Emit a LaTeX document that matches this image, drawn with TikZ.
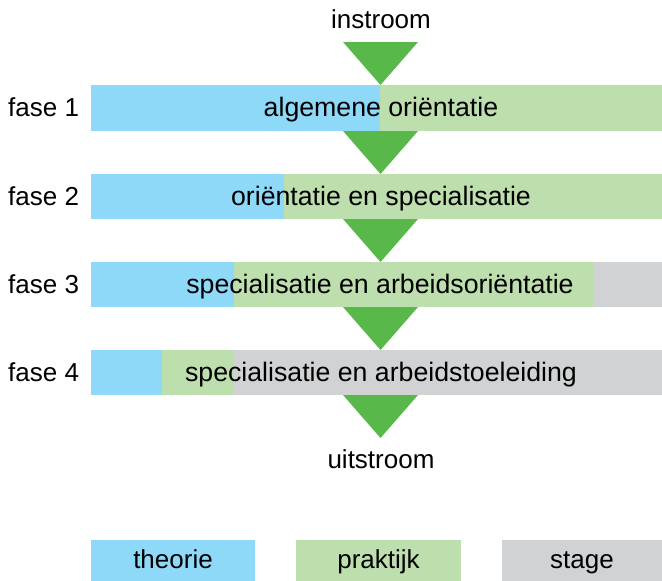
\documentclass[tikz,border=0pt]{standalone}
\usepackage{fontspec}
\setmainfont{Liberation Sans}
\definecolor{theo}{RGB}{142,216,248}
\definecolor{prak}{RGB}{189,222,173}
\definecolor{stag}{RGB}{209,210,212}
\definecolor{arr}{RGB}{88,185,74}
\begin{document}
\begin{tikzpicture}[x=1pt,y=-1pt,
  txt/.style={font=\fontsize{26}{30}\selectfont, inner sep=0pt, anchor=base},
  btxt/.style={txt, font=\fontsize{26.7}{30}\selectfont},
  lbl/.style={txt, anchor=base west},
  flow/.style={fill=arr}]
\useasboundingbox (0,0) rectangle (662,581);
% bars
\fill[theo] (91,85) rectangle (380,131);
\fill[prak] (380,85) rectangle (662,131);
\fill[theo] (91,174) rectangle (284,219);
\fill[prak] (284,174) rectangle (662,219);
\fill[theo] (91,262) rectangle (234,307);
\fill[prak] (234,262) rectangle (594,307);
\fill[stag] (594,262) rectangle (662,307);
\fill[theo] (91,350) rectangle (162,395);
\fill[prak] (162,350) rectangle (234,395);
\fill[stag] (234,350) rectangle (662,395);
% flow coordinates
\coordinate (c0) at (380.5,42);
\coordinate (c1) at (380.5,131);
\coordinate (c2) at (380.5,219);
\coordinate (c3) at (380.5,307);
\coordinate (c4) at (380.5,395);
\foreach \c in {c0,c1,c2,c3,c4}
  \fill[flow] (\c) ++(-37.5,0) -- ++(75,0) -- ++(-37.5,43) -- cycle;
% texts
\node[txt] (in) at (381,28) {instroom};
\node[btxt] (b1) at (381,116) {algemene oriëntatie};
\node[btxt] (b2) at (381,205) {oriëntatie en specialisatie};
\node[btxt] (b3) at (380,293) {specialisatie en arbeidsoriëntatie};
\node[btxt] (b4) at (381,381) {specialisatie en arbeidstoeleiding};
\node[txt] (out) at (381,468) {uitstroom};
\node[lbl] (f1) at (8,116) {fase 1};
\node[lbl] (f2) at (8,205) {fase 2};
\node[lbl] (f3) at (8,293) {fase 3};
\node[lbl] (f4) at (8,381) {fase 4};
% legend
\fill[theo] (91,540) rectangle (255,581);
\fill[prak] (296,540) rectangle (461,581);
\fill[stag] (502,540) rectangle (662,581);
\node[txt] (lt) at (173,568) {theorie};
\node[txt] (lp) at (378.5,568) {praktijk};
\node[txt] (ls) at (582,568) {stage};
\end{tikzpicture}
\end{document}
